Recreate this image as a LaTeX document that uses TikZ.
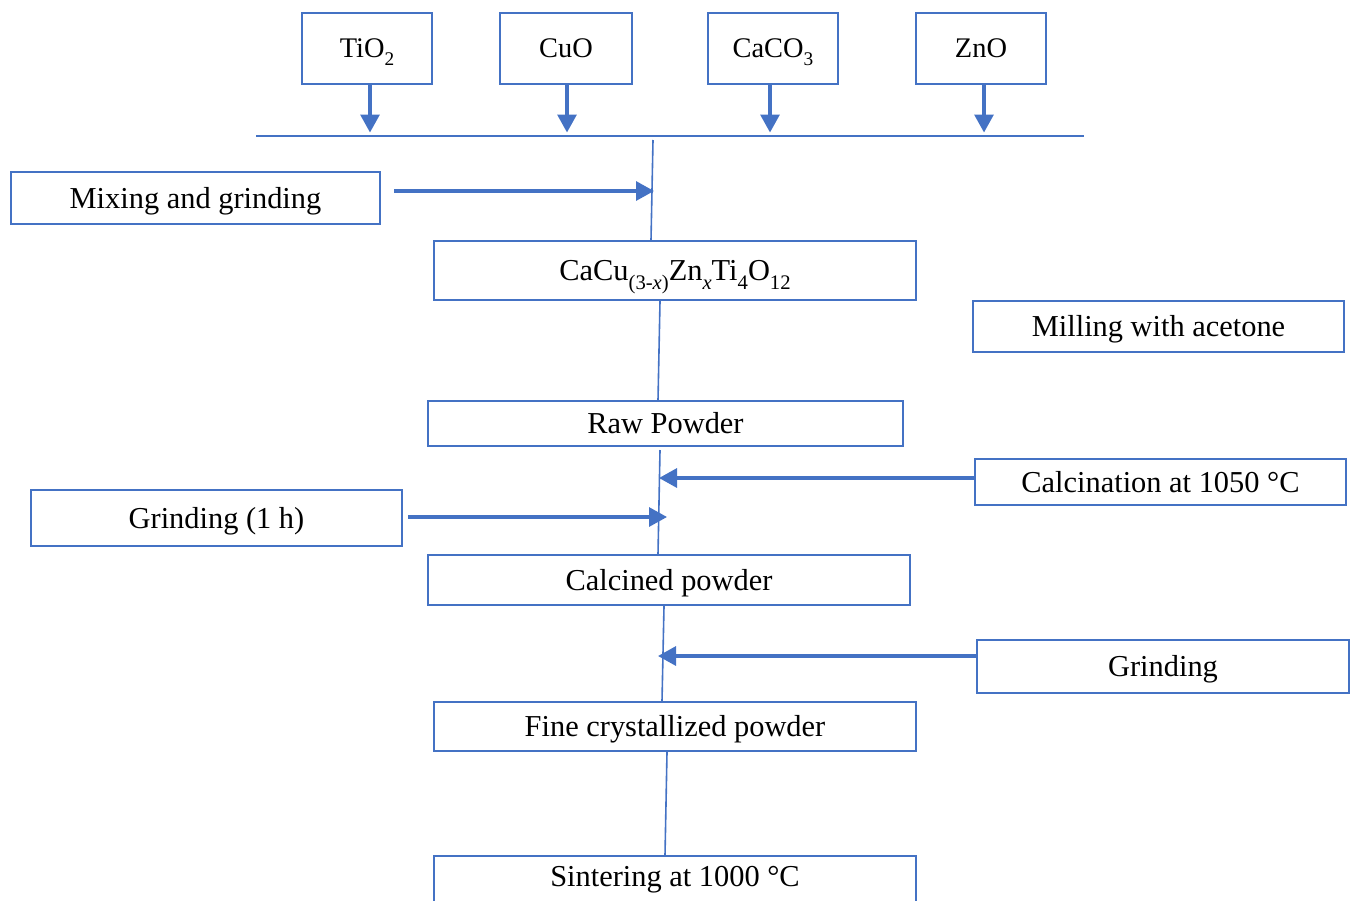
\documentclass[tikz,border=0pt]{standalone}
\usepackage{fontspec}
\setmainfont{Liberation Serif}
\usetikzlibrary{arrows.meta}
\definecolor{bl}{HTML}{4472C4}
\newcommand\sbx[1]{\raisebox{-0.3em}{\scalebox{0.68}{#1}}}
\begin{document}
\begin{tikzpicture}[x=0.5pt,y=-0.5pt,
  box/.style={draw=bl,line width=1pt,inner sep=0pt,text height=10pt,text depth=0pt,
    font=\fontsize{15.2}{18}\selectfont},
  topbox/.style={box,minimum width=65pt,minimum height=35.5pt,text height=9.4pt,
    font=\fontsize{14.2}{17}\selectfont},
  lbl/.style={inner sep=0pt,text height=10pt,text depth=0pt,font=\fontsize{15.2}{18}\selectfont},
  arr/.style={draw=bl,line width=1.6pt,-{Triangle[length=9pt,width=9.5pt]}},
  conn/.style={draw=bl,line width=0.8pt}]
\useasboundingbox (0,0) rectangle (1352,900);
% raw materials
\node[topbox] (ti) at (367,48) {TiO\sbx{2}};
\node[topbox,minimum width=66pt] (cu) at (566,48) {CuO};
\node[topbox] (caco) at (773,48) {CaCO\sbx{3}};
\node[topbox] (zn) at (981,48) {ZnO};
% bus
\coordinate (busL) at (256,136);
\coordinate (busR) at (1084,136);
\draw[conn] (busL) -- (busR);
\draw[arr] ([xshift=1.5pt]ti.south) -- ++(0,48);
\draw[arr] ([xshift=0.5pt]cu.south) -- ++(0,48);
\draw[arr] ([xshift=-1.5pt]caco.south) -- ++(0,48);
\draw[arr] ([xshift=1.5pt]zn.south) -- ++(0,48);
% process boxes
\node[box,minimum width=184.5pt,minimum height=26pt] (mix) at (195.5,198) {Mixing and grinding};
\node[box,minimum width=241pt,minimum height=29.5pt] (cacu) at (675,270.5)
  {CaCu\sbx{(3-\textit{x})}Zn\sbx{\textit{x}}Ti\sbx{4}O\sbx{12}};
\node[box,minimum width=185.5pt,minimum height=25.5pt] (mill) at (1158.5,326.5) {Milling with acetone};
\node[box,minimum width=237.5pt,minimum height=22.5pt] (raw) at (665.5,423.5) {Raw Powder};
\node[box,minimum width=185.5pt,minimum height=23pt] (calc) at (1160.5,482) {Calcination at 1050 °C};
\node[box,minimum width=185.5pt,minimum height=28pt] (grindA) at (216.5,518) {Grinding (1 h)};
\node[box,minimum width=241pt,minimum height=25pt] (calcp) at (669,580) {Calcined powder};
\node[box,minimum width=186pt,minimum height=26.5pt] (grindB) at (1163,666.5) {Grinding};
\node[box,minimum width=241pt,minimum height=24.5pt] (fine) at (675,726.5) {Fine crystallized powder};
\node[box,minimum width=241pt,minimum height=50pt,anchor=north] (sinter) at (675,855) {};
\node[lbl] (sintertxt) at (675,876) {Sintering at 1000 °C};
% vertical connectors
\coordinate (v1) at (653,140);
\draw[conn] (v1) -- (cacu.north -| 651,0);
\draw[conn] (cacu.south -| 660,0) -- (raw.north -| 658,0);
\draw[conn] (660,450) -- (calcp.north -| 658,0);
\draw[conn] (calcp.south -| 664,0) -- (fine.north -| 662,0);
\draw[conn] (fine.south -| 667,0) -- (sinter.north -| 665,0);
% side arrows
\coordinate (t1) at (654,191);
\coordinate (t2) at (659,478);
\coordinate (t3) at (667,517);
\coordinate (t4) at (658,656);
\draw[arr] ([xshift=6.5pt,yshift=3.5pt]mix.east) -- (t1);
\draw[arr] ([yshift=2pt]calc.west) -- (t2);
\draw[arr] ([xshift=2.5pt,yshift=0.5pt]grindA.east) -- (t3);
\draw[arr] ([yshift=5.25pt]grindB.west) -- (t4);
\end{tikzpicture}
\end{document}
